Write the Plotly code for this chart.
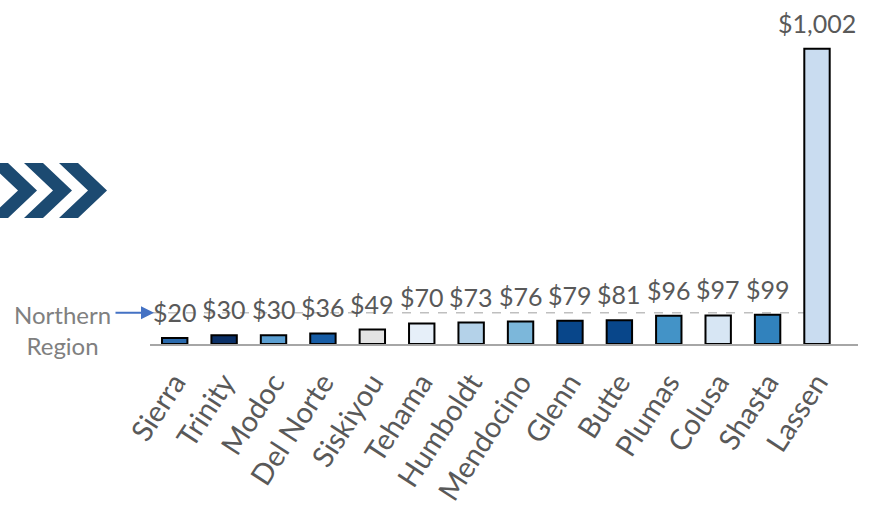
import plotly.graph_objects as go

# data
counties = ["Sierra", "Trinity", "Modoc", "Del Norte", "Siskiyou", "Tehama", "Humboldt",
            "Mendocino", "Glenn", "Butte", "Plumas", "Colusa", "Shasta", "Lassen"]
values = [20, 30, 30, 36, 49, 70, 73, 76, 79, 81, 96, 97, 99, 1002]
bar_colors = ["#2a6aad", "#0a2f66", "#5b9fd2", "#165ca5", "#e3e3e3", "#e6eff9", "#b4d2e9",
              "#7cb7da", "#08468a", "#08468a", "#4393c7", "#d7e6f4", "#3182bd", "#c9dcf0"]
northern_region = 106

FONT = "Lato"
TEXT_GRAY = "#595959"

# plot area in pixels (874x510 page)
L, R, T, B = 150, 16, 20, 166
W, H = 874, 510
PW, PH = W - L - R, H - T - B


def px_to_paper(px, py):
    return (px - L) / PW, (H - B - py) / PH


fig = go.Figure()

fig.add_trace(go.Bar(
    x=counties,
    y=values,
    marker=dict(color=bar_colors, line=dict(color="black", width=2)),
    hoverinfo="x+y",
))

# value labels
for c, v in zip(counties, values):
    fig.add_annotation(
        x=c, y=v, text=f"${v:,}", showarrow=False,
        yanchor="bottom", yshift=9,
        font=dict(family=FONT, size=25, color=TEXT_GRAY),
    )

# Northern Region average (dashed line)
fig.add_shape(
    type="line", xref="paper", yref="y",
    x0=0, x1=(825 - L) / PW, y0=northern_region, y1=northern_region,
    line=dict(color="#bfbfbf", width=1.5, dash="dash"),
    layer="below",
)

fig.add_annotation(
    xref="paper", yref="y", x=(154 - L) / PW, y=northern_region,
    ax=-40, ay=0, text="", showarrow=True,
    arrowhead=2, arrowsize=1.3, arrowwidth=2, arrowcolor="#4472c4",
)
fig.add_annotation(
    xref="paper", yref="paper",
    x=px_to_paper(62, 0)[0], y=px_to_paper(0, 330)[1],
    text="Northern<br>Region", showarrow=False, align="center",
    xanchor="center", yanchor="middle",
    font=dict(family=FONT, size=24, color="#808080"),
)

# chevrons
for k in range(3):
    x0 = -11 + 35 * k
    pts = [(x0, 163), (x0 + 19, 163), (x0 + 48, 190.5), (x0 + 19, 218), (x0, 218), (x0 + 29, 190.5)]
    path = "M " + " L ".join("{:.5f},{:.5f}".format(*px_to_paper(a, b)) for a, b in pts) + " Z"
    fig.add_shape(type="path", xref="paper", yref="paper", path=path,
                  fillcolor="#1c4a71", line=dict(width=0))

fig.update_layout(
    width=W, height=H,
    margin=dict(l=L, r=R, t=T, b=B, autoexpand=False),
    plot_bgcolor="white",
    paper_bgcolor="white",
    showlegend=False,
    bargap=0.486,
    xaxis=dict(
        showline=True, linecolor="#a6a6a6", linewidth=2,
        showgrid=False, ticks="", tickangle=-57, automargin=False,
        ticklabelstandoff=8,
        tickfont=dict(family=FONT, size=29, color=TEXT_GRAY),
    ),
    yaxis=dict(range=[0, 1100], visible=False, showgrid=False, automargin=False),
)

# drop the default page margin so the figure sits at the window's corner
fig.write_html("out.html", config={"displayModeBar": False},
               post_script="document.body.style.margin = '0';")
